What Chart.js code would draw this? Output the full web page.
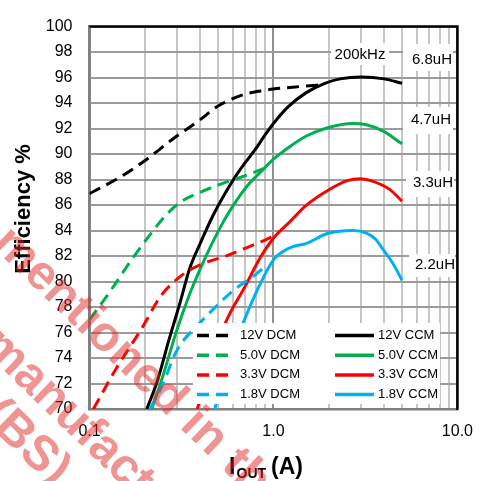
<!DOCTYPE html>
<html>
<head>
<meta charset="utf-8">
<script src="https://cdn.jsdelivr.net/npm/chart.js@4.4.1/dist/chart.umd.min.js"></script>
<style>
  html, body { margin: 0; padding: 0; background: #fff; }
  canvas { display: block; }
</style>
</head>
<body>
<canvas id="chart" width="486" height="481"></canvas>
<script>
// output current (A) and efficiency (%)
const i12Dcm = [0.1, 0.147, 0.205, 0.285, 0.4, 0.49, 0.6, 0.7, 0.85, 1.0, 1.4, 1.9];
const eff12Dcm = [86.9, 88.2, 89.6, 91.2, 92.7, 93.7, 94.35, 94.7, 94.95, 95.1, 95.3, 95.45];
const i12Ccm = [0.205, 0.235, 0.27, 0.31, 0.35, 0.4, 0.47, 0.53, 0.6, 0.7, 0.8, 0.9, 1.0, 1.2, 1.5, 1.9, 2.3, 3.0, 4.0, 5.0];
const eff12Ccm = [70, 72.3, 75.4, 78.3, 81.0, 83.0, 85.2, 86.6, 87.9, 89.3, 90.4, 91.5, 92.4, 93.7, 94.8, 95.55, 95.9, 96.05, 95.9, 95.55];

const i5Dcm = [0.1, 0.129, 0.173, 0.222, 0.26, 0.31, 0.4, 0.53, 0.7, 0.9];
const eff5Dcm = [77.0, 79.2, 81.9, 84.0, 85.2, 86.2, 87.0, 87.7, 88.3, 88.9];
const i5Ccm = [0.218, 0.252, 0.297, 0.35, 0.4, 0.45, 0.53, 0.6, 0.72, 0.88, 1.0, 1.23, 1.5, 1.95, 2.7, 3.2, 3.95, 5.0];
const eff5Ccm = [70, 72.7, 76.1, 79.0, 81.0, 82.6, 84.6, 85.9, 87.5, 88.8, 89.6, 90.6, 91.4, 92.05, 92.4, 92.3, 91.8, 90.8];

const i33Dcm = [0.105, 0.14, 0.19, 0.245, 0.3, 0.35, 0.43, 0.55, 0.7, 0.85, 1.05];
const eff33Dcm = [70, 73.2, 76.2, 78.9, 80.2, 80.9, 81.5, 82.0, 82.6, 83.1, 83.7];
const i33Ccm = [0.385, 0.46, 0.55, 0.7, 0.85, 1.0, 1.23, 1.5, 1.95, 2.5, 2.96, 3.48, 4.28, 5.0];
const eff33Ccm = [70, 73.5, 76.8, 79.6, 81.9, 83.4, 84.7, 85.95, 87.1, 87.9, 88.07, 87.86, 87.23, 86.3];

const i18Dcm = [0.213, 0.241, 0.263, 0.285, 0.31, 0.383, 0.5, 0.605, 0.776, 0.92];
const eff18Dcm = [70, 71.45, 72.7, 74.0, 75.0, 76.5, 78.2, 79.3, 80.4, 81.3];
const i18Ccm = [0.48, 0.56, 0.686, 0.85, 1.0, 1.23, 1.515, 1.945, 2.3, 2.7, 3.2, 3.6, 3.95, 4.47, 5.0];
const eff18Ccm = [70, 73.5, 76.8, 79.85, 81.7, 82.65, 83.0, 83.75, 83.95, 84.0, 83.8, 83.3, 82.5, 81.4, 80.1];

// axes
const xTickValues = [0.1, 0.2, 0.3, 0.4, 0.5, 0.6, 0.7, 0.8, 0.9, 1, 2, 3, 4, 5, 6, 7, 8, 9, 10];
const xMajorTicks = [0.1, 1, 10];
const xMajorLabels = ['0.1', '1.0', '10.0'];
const yMin = 70, yMax = 100, yStep = 2;
const yTitle = 'Efficiency %';

// curve notes
const freqNote = '200kHz';
const inductorNotes = ['6.8uH', '4.7uH', '3.3uH', '2.2uH'];

const BLACK = '#000000', GREEN = '#00b050', RED = '#ff0000', BLUE = '#00b0f0';
const FONT = '"Liberation Sans", Arial, sans-serif';

const series = [
  { label: '12V DCM', xs: i12Dcm, ys: eff12Dcm, color: BLACK, dashed: true },
  { label: '5.0V DCM', xs: i5Dcm, ys: eff5Dcm, color: GREEN, dashed: true },
  { label: '3.3V DCM', xs: i33Dcm, ys: eff33Dcm, color: RED, dashed: true },
  { label: '1.8V DCM', xs: i18Dcm, ys: eff18Dcm, color: BLUE, dashed: true },
  { label: '12V CCM', xs: i12Ccm, ys: eff12Ccm, color: BLACK, dashed: false },
  { label: '5.0V CCM', xs: i5Ccm, ys: eff5Ccm, color: GREEN, dashed: false },
  { label: '3.3V CCM', xs: i33Ccm, ys: eff33Ccm, color: RED, dashed: false },
  { label: '1.8V CCM', xs: i18Ccm, ys: eff18Ccm, color: BLUE, dashed: false },
];

const datasets = series.map(s => ({
  label: s.label,
  data: s.xs.map((x, i) => ({ x: x, y: s.ys[i] })),
  borderColor: s.color,
  borderWidth: 3,
  borderDash: s.dashed ? [12, 7] : [],
  pointRadius: 0,
  fill: false,
  cubicInterpolationMode: 'monotone',
}));

const notesPlugin = {
  id: 'notes',
  beforeDatasetsDraw(chart) {
    const ctx = chart.ctx;
    ctx.save();
    // white boxes behind the notes hide the grid
    ctx.fillStyle = '#fff';
    ctx.fillRect(331, 43, 58, 22);
    const boxes = [[403, 44, 50, 27], [403, 107, 50, 27], [406, 171, 48, 26], [409, 254, 46, 23]];
    boxes.forEach(b => ctx.fillRect(b[0], b[1], b[2], b[3]));
    ctx.fillStyle = '#000';
    ctx.font = '15px ' + FONT;
    ctx.textBaseline = 'middle';
    ctx.textAlign = 'center';
    ctx.fillText(freqNote, 360, 55);
    ctx.textAlign = 'left';
    const ys = [60, 120, 183, 265];
    const xs = [412, 411, 413, 415];
    inductorNotes.forEach((t, i) => ctx.fillText(t, xs[i], ys[i]));
    ctx.restore();
  },
  afterDatasetsDraw(chart) {
    const ctx = chart.ctx;
    const a = chart.chartArea;
    ctx.save();
    // black frame on top and right
    ctx.strokeStyle = '#000';
    ctx.lineWidth = 2.5;
    ctx.beginPath();
    ctx.moveTo(a.left, a.top);
    ctx.lineTo(a.right, a.top);
    ctx.lineTo(a.right, a.bottom + 1);
    ctx.stroke();

    // legend
    ctx.fillStyle = '#fff';
    ctx.fillRect(193, 323, 247, 81);
    ctx.font = '13px ' + FONT;
    ctx.textBaseline = 'middle';
    ctx.textAlign = 'left';
    const rowY = [335.5, 355.2, 374.9, 394.6];
    series.forEach((s, i) => {
      const col = s.dashed ? 0 : 1;
      const y = rowY[i % 4];
      ctx.strokeStyle = s.color;
      ctx.lineWidth = 3.5;
      ctx.beginPath();
      if (col === 0) {
        ctx.setLineDash([12, 7]);
        ctx.moveTo(197, y);
        ctx.lineTo(228, y);
      } else {
        ctx.setLineDash([]);
        ctx.moveTo(335, y);
        ctx.lineTo(374, y);
      }
      ctx.stroke();
      ctx.fillStyle = '#000';
      ctx.fillText(s.label, col === 0 ? 240 : 378, y);
    });
    ctx.restore();
  },
  afterDraw(chart) {
    const ctx = chart.ctx;
    ctx.save();
    // y axis title
    ctx.fillStyle = '#000';
    ctx.save();
    ctx.translate(24, 209);
    ctx.rotate(-Math.PI / 2);
    ctx.font = 'bold 22px ' + FONT;
    ctx.textAlign = 'center';
    ctx.textBaseline = 'middle';
    ctx.fillText(yTitle, 0, 0);
    ctx.restore();

    // x axis title with subscript
    ctx.textBaseline = 'alphabetic';
    ctx.textAlign = 'left';
    ctx.font = 'bold 23px ' + FONT;
    ctx.fillText('I', 229, 474);
    ctx.font = 'bold 14px ' + FONT;
    ctx.fillText('OUT', 236.5, 478);
    ctx.font = 'bold 23px ' + FONT;
    ctx.fillText('(A)', 271, 474);

    // watermark over the picture
    const th = 44 * Math.PI / 180;
    const c = Math.cos(th), s = Math.sin(th);
    ctx.fillStyle = 'rgba(225, 40, 40, 0.5)';
    ctx.font = 'bold 49px ' + FONT;
    const lines = [['mentioned in the', 164, 183], ['manufacturer', 227, 264], ['(BS)', 276, 314]];
    lines.forEach(l => {
      const d = l[1], off = l[2];
      ctx.save();
      ctx.translate(c * d - s * off, s * d + c * off);
      ctx.rotate(th);
      ctx.fillText(l[0], 0, 0);
      ctx.restore();
    });
    ctx.restore();
  }
};

new Chart(document.getElementById('chart'), {
  type: 'line',
  data: { datasets: datasets },
  plugins: [notesPlugin],
  options: {
    responsive: false,
    animation: false,
    events: [],
    layout: { padding: { top: 16, right: 28, bottom: 0, left: 0 } },
    plugins: {
      legend: { display: false },
      tooltip: { enabled: false },
    },
    scales: {
      x: {
        type: 'logarithmic',
        min: 0.1,
        max: 10,
        afterBuildTicks: (scale) => {
          scale.ticks = xTickValues.map(v => ({ value: v }));
        },
        afterFit: (scale) => { scale.height = 72; },
        ticks: {
          autoSkip: false,
          maxRotation: 0,
          padding: 13,
          color: '#000',
          font: { family: FONT, size: 16 },
          callback: (v) => {
            const k = xMajorTicks.indexOf(v);
            return k >= 0 ? xMajorLabels[k] : '';
          },
        },
        grid: {
          drawTicks: false,
          lineWidth: 2,
          color: (ctx) => (ctx.tick && xMajorTicks.includes(ctx.tick.value)) ? '#8f8f8f' : '#c6c6c6',
        },
        border: { display: true, color: '#7f7f7f', width: 2.5 },
      },
      y: {
        min: yMin,
        max: yMax,
        afterFit: (scale) => { scale.width = 89.5; },
        ticks: {
          stepSize: yStep,
          padding: 17,
          color: '#000',
          font: { family: FONT, size: 16 },
        },
        grid: { drawTicks: false, lineWidth: 2, color: '#9b9b9b' },
        border: { display: true, color: '#7f7f7f', width: 2.5 },
      },
    },
  },
});
</script>
</body>
</html>
